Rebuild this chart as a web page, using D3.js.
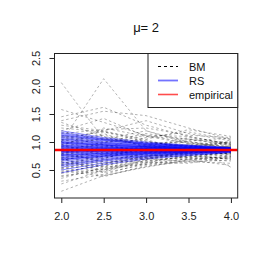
<!DOCTYPE html>
<html>
<head>
<meta charset="utf-8">
<script src="https://cdn.jsdelivr.net/npm/d3@7"></script>
<style>
  body { margin: 0; background: #fff; }
  svg { display: block; font-family: "Liberation Sans", Arial, sans-serif; }
</style>
</head>
<body>
<svg id="chart" width="266" height="266"></svg>
<script>
// x positions shared by every path
const xs = [2.0, 2.5, 3.0, 3.5, 4.0];
const xTicks = [2.0, 2.5, 3.0, 3.5, 4.0];
const yTicks = [0.5, 1.0, 1.5, 2.0, 2.5];
const empirical = 0.855;
const title = 'μ= 2';
const legendLabels = ['BM', 'RS', 'empirical'];

// BM paths (grey dashed)
const bmPaths = [
  [2.06, 1.05, 0.95, 0.88, 0.84],
  [1.00, 2.13, 1.20, 1.00, 0.90],
  [1.58, 1.35, 1.12, 0.98, 0.92],
  [1.45, 1.62, 1.30, 1.10, 0.96],
  [1.38, 1.55, 1.47, 1.25, 1.05],
  [1.30, 1.20, 1.38, 1.15, 1.02],
  [1.25, 1.18, 1.05, 1.22, 1.10],
  [1.20, 1.42, 1.10, 1.05, 0.98],
  [1.15, 1.22, 1.25, 1.12, 1.08],
  [1.12, 1.00, 1.15, 1.05, 0.95],
  [1.08, 1.18, 1.00, 0.92, 1.00],
  [1.05, 0.90, 1.08, 1.18, 1.04],
  [1.02, 1.12, 0.98, 1.00, 0.94],
  [1.00, 0.85, 0.92, 1.08, 0.97],
  [0.98, 1.05, 1.20, 0.98, 0.90],
  [0.95, 1.15, 0.90, 0.95, 0.88],
  [0.93, 0.80, 0.88, 0.82, 0.92],
  [0.90, 1.08, 0.95, 1.02, 0.86],
  [0.88, 0.95, 0.82, 0.90, 0.99],
  [0.86, 0.72, 0.85, 0.93, 0.83],
  [0.84, 1.00, 1.04, 0.85, 0.89],
  [0.82, 0.88, 0.76, 0.80, 0.87],
  [0.80, 0.65, 0.80, 0.88, 0.81],
  [0.78, 0.92, 0.86, 0.76, 0.80],
  [0.76, 0.70, 0.95, 0.87, 0.93],
  [0.74, 0.60, 0.72, 0.78, 0.76],
  [0.72, 0.82, 0.70, 0.84, 0.78],
  [0.70, 0.55, 0.66, 0.74, 0.82],
  [0.68, 0.78, 0.90, 0.95, 0.85],
  [0.65, 0.50, 0.62, 0.70, 0.74],
  [0.62, 0.75, 0.68, 0.82, 0.79],
  [0.60, 0.45, 0.60, 0.66, 0.72],
  [0.57, 0.68, 0.78, 0.72, 0.70],
  [0.55, 0.40, 0.56, 0.68, 0.75],
  [0.52, 0.62, 0.74, 0.80, 0.84],
  [0.50, 0.38, 0.58, 0.64, 0.68],
  [0.47, 0.58, 0.70, 0.77, 0.80],
  [0.44, 0.52, 0.64, 0.62, 0.73],
  [0.40, 0.48, 0.67, 0.72, 0.77],
  [0.35, 0.55, 0.60, 0.70, 0.66],
  [0.30, 0.42, 0.63, 0.75, 0.71],
  [0.25, 0.50, 0.70, 0.65, 0.62],
  [0.12, 0.40, 0.55, 0.68, 0.58],
  [1.10, 0.95, 0.84, 1.02, 1.07],
  [0.92, 1.25, 1.10, 0.97, 0.91],
  [0.79, 0.98, 1.12, 1.10, 0.96],
  [0.66, 0.88, 0.82, 0.90, 1.00],
  [1.35, 1.10, 0.92, 0.86, 0.90],
  [0.58, 0.75, 0.88, 1.05, 0.94],
  [0.85, 0.62, 0.74, 0.91, 0.55],
  [0.64, 0.56, 0.77, 0.73, 0.81],
  [0.53, 0.66, 0.64, 0.76, 0.69],
  [0.45, 0.60, 0.82, 0.79, 0.86],
  [0.71, 0.46, 0.69, 0.84, 0.77],
  [0.96, 0.76, 0.86, 0.81, 0.84],
  [1.18, 1.05, 0.99, 0.94, 1.02],
  [0.38, 0.52, 0.73, 0.86, 0.79],
  [0.77, 0.86, 0.72, 0.69, 0.74],
  [1.04, 1.20, 1.02, 0.90, 0.88],
  [0.61, 0.70, 0.92, 0.84, 0.92]
];

// RS paths (blue, converging)
const rsPaths = [
  [1.20, 1.08, 1.00, 0.945, 0.90],
  [1.17, 1.06, 0.98, 0.94, 0.90],
  [1.15, 1.05, 0.98, 0.93, 0.89],
  [1.12, 1.03, 0.96, 0.925, 0.89],
  [1.10, 1.02, 0.96, 0.92, 0.89],
  [1.08, 1.00, 0.95, 0.915, 0.885],
  [1.06, 0.99, 0.94, 0.91, 0.885],
  [1.05, 0.98, 0.935, 0.91, 0.88],
  [1.03, 0.97, 0.93, 0.90, 0.88],
  [1.01, 0.96, 0.92, 0.90, 0.88],
  [1.00, 0.95, 0.915, 0.895, 0.875],
  [0.98, 0.94, 0.91, 0.89, 0.875],
  [0.97, 0.93, 0.905, 0.89, 0.875],
  [0.95, 0.92, 0.895, 0.88, 0.87],
  [0.94, 0.91, 0.89, 0.88, 0.87],
  [0.93, 0.905, 0.89, 0.878, 0.868],
  [0.91, 0.89, 0.88, 0.872, 0.866],
  [0.90, 0.886, 0.876, 0.87, 0.865],
  [0.89, 0.88, 0.872, 0.868, 0.864],
  [0.88, 0.873, 0.868, 0.865, 0.862],
  [0.87, 0.866, 0.864, 0.862, 0.861],
  [0.86, 0.86, 0.86, 0.86, 0.86],
  [0.85, 0.853, 0.856, 0.857, 0.859],
  [0.84, 0.847, 0.852, 0.855, 0.858],
  [0.83, 0.84, 0.848, 0.852, 0.856],
  [0.82, 0.834, 0.844, 0.85, 0.855],
  [0.81, 0.828, 0.84, 0.848, 0.854],
  [0.80, 0.82, 0.836, 0.845, 0.853],
  [0.78, 0.808, 0.828, 0.84, 0.85],
  [0.77, 0.80, 0.824, 0.838, 0.849],
  [0.75, 0.788, 0.816, 0.832, 0.847],
  [0.73, 0.775, 0.808, 0.828, 0.845],
  [0.72, 0.77, 0.804, 0.825, 0.843],
  [0.70, 0.756, 0.796, 0.82, 0.84],
  [0.68, 0.743, 0.788, 0.815, 0.838],
  [0.66, 0.73, 0.78, 0.81, 0.836],
  [0.63, 0.71, 0.768, 0.802, 0.832],
  [0.60, 0.69, 0.756, 0.795, 0.829],
  [0.55, 0.66, 0.736, 0.782, 0.823],
  [0.50, 0.626, 0.716, 0.77, 0.817],
  [0.45, 0.594, 0.696, 0.757, 0.811],
  [1.13, 1.04, 0.97, 0.93, 0.89],
  [0.99, 0.945, 0.912, 0.892, 0.874],
  [0.92, 0.897, 0.884, 0.875, 0.867],
  [0.835, 0.844, 0.85, 0.853, 0.857],
  [0.76, 0.794, 0.82, 0.835, 0.848],
  [0.69, 0.75, 0.792, 0.818, 0.839],
  [0.58, 0.678, 0.748, 0.79, 0.826]
];

const svg = d3.select('#chart');
const pLeft = 54.5, pRight = 237.7, pTop = 53.5, pBottom = 198;

const x = d3.scaleLinear().domain([1.92, 4.08]).range([pLeft, pRight]);
const y = d3.scaleLinear().domain([0, 2.58]).range([pBottom, pTop]);

svg.append('defs').append('clipPath').attr('id', 'plotclip')
  .append('rect')
  .attr('x', pLeft).attr('y', pTop)
  .attr('width', pRight - pLeft).attr('height', pBottom - pTop);

const line = d3.line()
  .x((d, i) => x(xs[i]))
  .y(d => y(d));

const plot = svg.append('g').attr('clip-path', 'url(#plotclip)');

plot.append('g')
  .selectAll('path')
  .data(bmPaths)
  .enter()
  .append('path')
  .attr('d', line)
  .attr('fill', 'none')
  .attr('stroke', 'rgba(0,0,0,0.3)')
  .attr('stroke-width', 1)
  .attr('stroke-dasharray', '2.5,2.5');

plot.append('g')
  .selectAll('path')
  .data(rsPaths)
  .enter()
  .append('path')
  .attr('d', line)
  .attr('fill', 'none')
  .attr('stroke', 'rgba(0,0,255,0.45)')
  .attr('stroke-width', 1);

plot.append('line')
  .attr('x1', pLeft).attr('x2', pRight)
  .attr('y1', y(empirical)).attr('y2', y(empirical))
  .attr('stroke', '#ff0000')
  .attr('stroke-width', 2.5);

// axes, R style
const xAxis = svg.append('g')
  .attr('transform', `translate(0,${pBottom})`)
  .call(d3.axisBottom(x).tickValues(xTicks).tickFormat(d3.format('.1f')).tickSize(5).tickPadding(9));
xAxis.select('.domain').remove();
xAxis.selectAll('text').attr('font-size', 11).attr('fill', '#222').attr('font-family', '"Liberation Sans", Arial, sans-serif');
xAxis.selectAll('line').attr('stroke', '#222');

const yAxis = svg.append('g')
  .attr('transform', `translate(${pLeft},0)`)
  .call(d3.axisLeft(y).tickValues(yTicks).tickFormat(d3.format('.1f')).tickSize(5));
yAxis.select('.domain').remove();
yAxis.selectAll('line').attr('stroke', '#222');
yAxis.selectAll('text')
  .attr('font-size', 11)
  .attr('fill', '#222')
  .attr('font-family', '"Liberation Sans", Arial, sans-serif')
  .attr('x', null).attr('dy', null)
  .attr('text-anchor', 'middle')
  .attr('transform', 'translate(-19,0) rotate(-90)')
  .attr('dominant-baseline', 'central');

// box
svg.append('rect')
  .attr('x', pLeft).attr('y', pTop)
  .attr('width', pRight - pLeft).attr('height', pBottom - pTop)
  .attr('fill', 'none').attr('stroke', '#222').attr('stroke-width', 1);

// title
svg.append('text')
  .attr('x', (pLeft + pRight) / 2).attr('y', 32)
  .attr('text-anchor', 'middle')
  .attr('font-size', 13)
  .attr('fill', '#111')
  .text(title);

// legend
const legend = svg.append('g');
legend.append('rect')
  .attr('x', 148).attr('y', pTop)
  .attr('width', pRight - 148).attr('height', 54)
  .attr('fill', '#fff').attr('stroke', '#222').attr('stroke-width', 1);

const legendStyles = [
  { stroke: '#000', width: 1, dash: '3,3' },
  { stroke: 'rgba(0,0,255,0.55)', width: 1.8, dash: null },
  { stroke: 'rgba(255,0,0,0.7)', width: 1.6, dash: null }
];
const rowY = [66.5, 80.5, 94.5];
legendLabels.forEach((lab, i) => {
  legend.append('line')
    .attr('x1', 158).attr('x2', 178)
    .attr('y1', rowY[i]).attr('y2', rowY[i])
    .attr('stroke', legendStyles[i].stroke)
    .attr('stroke-width', legendStyles[i].width)
    .attr('stroke-dasharray', legendStyles[i].dash);
  legend.append('text')
    .attr('x', 189).attr('y', rowY[i])
    .attr('dominant-baseline', 'central')
    .attr('font-size', 11)
    .attr('fill', '#111')
    .text(lab);
});
</script>
</body>
</html>
